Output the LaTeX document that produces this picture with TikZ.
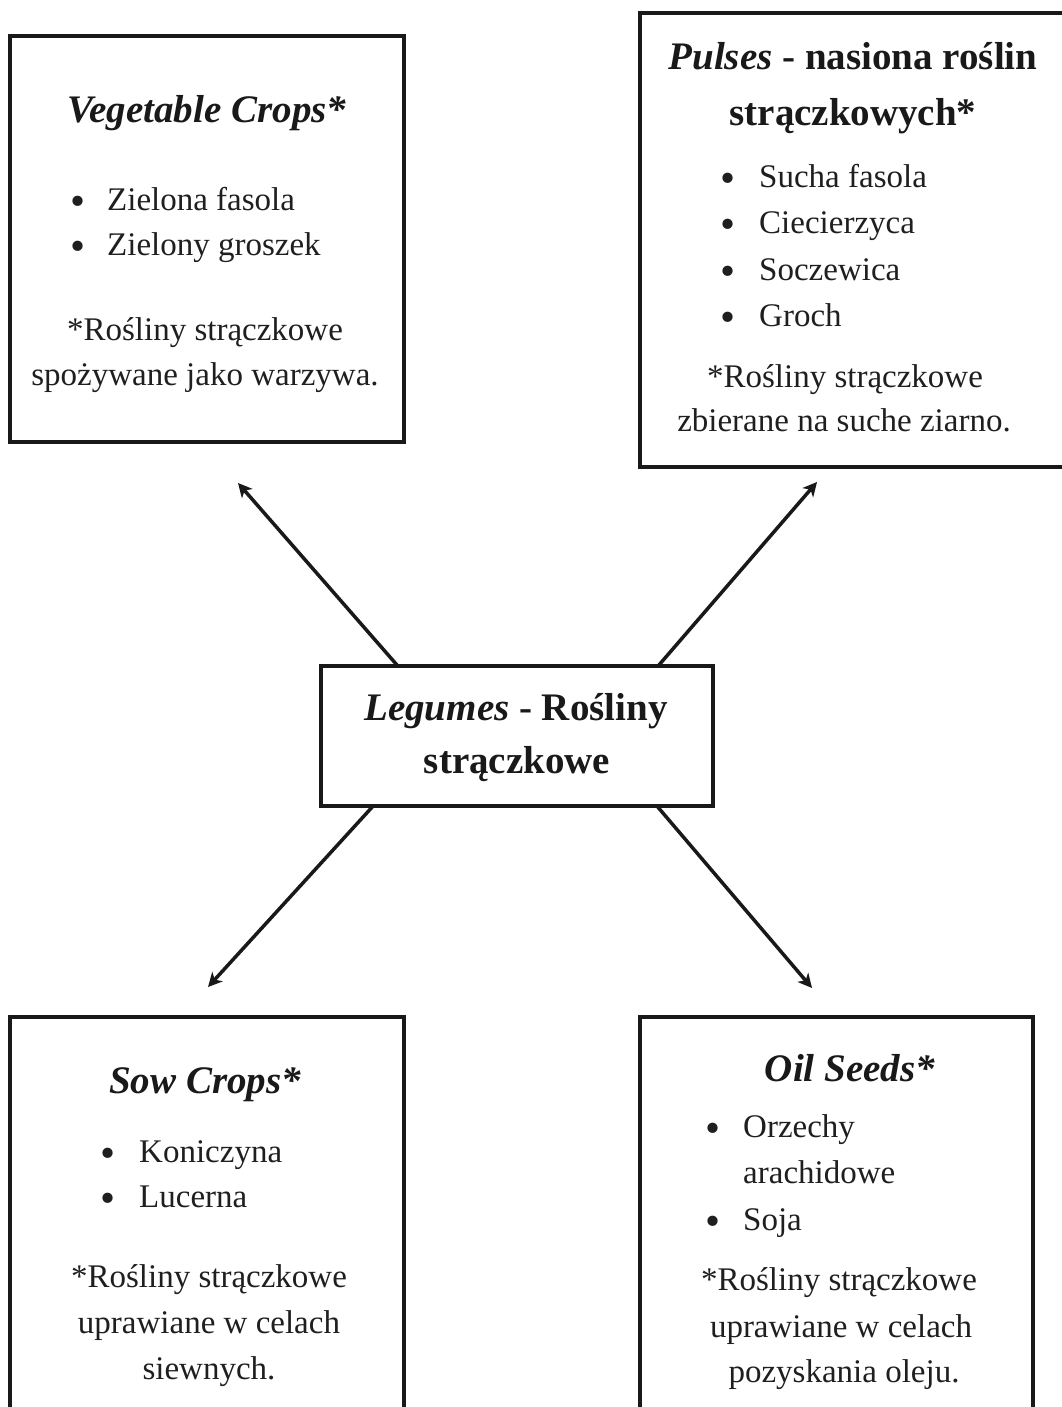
\documentclass[tikz,border=0pt]{standalone}
\usepackage{fontspec}
\usepackage{graphicx}
\setmainfont{Liberation Serif}
\usetikzlibrary{arrows.meta,calc}
\newcommand{\bulx}[1]{\makebox[#1][l]{\raisebox{-5.5pt}{\scalebox{1.3}{•}}}}
\begin{document}
\begin{tikzpicture}[x=1pt,y=-1pt,
  box/.style={draw=black!90,line width=3.2pt,anchor=north west,inner sep=0pt,outer sep=0pt},
  ttl/.style={anchor=base,font=\fontsize{39}{55}\selectfont\bfseries,inner sep=0pt,text=black!90},
  txt/.style={anchor=base,font=\fontsize{33}{46}\selectfont,inner sep=0pt,text=black!88},
  itm/.style={anchor=base west,font=\fontsize{33}{46}\selectfont,inner sep=0pt,text=black!88},
  arr/.style={draw=black!90,line width=3.5pt,-{Stealth[length=14pt,width=14pt,inset=4pt]}}]
\fill[white] (0,0) rectangle (1061,1407);
\useasboundingbox (0,0) rectangle (1061,1407);

% boxes
\node[box,minimum width=394pt,minimum height=406pt] (tlbox) at (10,36) {};
\node[box,minimum width=432pt,minimum height=454pt] (trbox) at (640,13) {};
\node[box,minimum width=392pt,minimum height=140pt] (ctr) at (321,666) {};
\node[box,minimum width=394pt,minimum height=420pt] (blbox) at (10,1017) {};
\node[box,minimum width=393pt,minimum height=420pt] (brbox) at (640,1017) {};

% top-left
\node[ttl] (tlt) at (207,123) {\itshape Vegetable Crops*};
\node[itm] (tli1) at (70,210) {\bulx{37pt}Zielona fasola};
\node[itm] (tli2) at (70,255) {\bulx{37pt}Zielony groszek};
\node[txt] (tln1) at (205,340) {*Rośliny strączkowe};
\node[txt] (tln2) at (205,385) {spożywane jako warzywa.};

% top-right
\node[ttl] (trt1) at (853,70) {\textit{Pulses} - nasiona roślin};
\node[ttl] (trt2) at (853,126) {strączkowych*};
\node[itm] (tri1) at (720,187) {\bulx{39pt}Sucha fasola};
\node[itm] (tri2) at (720,233) {\bulx{39pt}Ciecierzyca};
\node[itm] (tri3) at (720,280) {\bulx{39pt}Soczewica};
\node[itm] (tri4) at (720,326) {\bulx{39pt}Groch};
\node[txt] (trn1) at (845,387) {*Rośliny strączkowe};
\node[txt] (trn2) at (844,431) {zbierane na suche ziarno.};

% center
\node[ttl] (ct1) at (516,720) {\textit{Legumes} - Rośliny};
\node[ttl] (ct2) at (517,773) {strączkowe};

% bottom-left
\node[ttl] (blt) at (205,1093) {\itshape Sow Crops*};
\node[itm] (bli1) at (100,1162) {\bulx{39pt}Koniczyna};
\node[itm] (bli2) at (100,1207) {\bulx{39pt}Lucerna};
\node[txt] (bln1) at (209,1287) {*Rośliny strączkowe};
\node[txt] (bln2) at (209,1333) {uprawiane w celach};
\node[txt] (bln3) at (209,1379) {siewnych.};

% bottom-right
\node[ttl] (brt) at (850,1081) {\itshape Oil Seeds*};
\node[itm] (bri1) at (705,1137) {\bulx{38pt}Orzechy};
\node[itm] (bri1b) at (743,1183) {arachidowe};
\node[itm] (bri2) at (705,1230) {\bulx{38pt}Soja};
\node[txt] (brn1) at (839,1290) {*Rośliny strączkowe};
\node[txt] (brn2) at (841,1337) {uprawiane w celach};
\node[txt] (brn3) at (844,1382) {pozyskania oleju.};

% arrow ends
\coordinate (etl) at (238,483);
\coordinate (etr) at (817,482);
\coordinate (ebl) at (208,987);
\coordinate (ebr) at (812,988);

\draw[arr] ($(ctr.north west)!0.196!(ctr.north east)$) -- (etl);
\draw[arr] ($(ctr.north west)!0.86!(ctr.north east)$) -- (etr);
\draw[arr] ($(ctr.south west)!0.133!(ctr.south east)$) -- (ebl);
\draw[arr] ($(ctr.south west)!0.857!(ctr.south east)$) -- (ebr);
\end{tikzpicture}
\end{document}
